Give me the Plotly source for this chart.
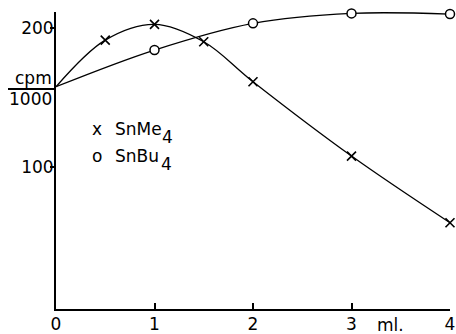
import plotly.graph_objects as go

# data
x_me = [0, 0.5, 1, 1.5, 2, 3, 4]
y_me = [157.8, 191.5, 202.9, 190.3, 161.4, 107.7, 59.5]
x_bu = [0, 1, 2, 3, 4]
y_bu = [157.8, 184.3, 203.6, 210.8, 210.3]
x_ticks = [0, 1, 2, 3, 4]
x_ticklabels = ["0", "1", "2", "3", "4"]
y_ticks = [100, 200]
y_ticklabels = ["100", "200"]

FONT = "DejaVu Sans"
fig = go.Figure()

# SnMe4 curve (starting point without marker)
fig.add_trace(go.Scatter(x=x_me, y=y_me, mode="lines", line=dict(color="black", width=1.3, shape="spline", smoothing=1.0),
                         showlegend=False, hoverinfo="skip", cliponaxis=False))
fig.add_trace(go.Scatter(x=x_me[1:], y=y_me[1:], mode="markers",
                         marker=dict(symbol="x-thin", size=9, line=dict(color="black", width=1.6)),
                         showlegend=False, cliponaxis=False))
# SnBu4 curve
fig.add_trace(go.Scatter(x=x_bu, y=y_bu, mode="lines", line=dict(color="black", width=1.3, shape="spline", smoothing=1.0),
                         showlegend=False, hoverinfo="skip", cliponaxis=False))
fig.add_trace(go.Scatter(x=x_bu[1:], y=y_bu[1:], mode="markers",
                         marker=dict(symbol="circle", size=9, color="white", line=dict(color="black", width=1.5)),
                         showlegend=False, cliponaxis=False))

W, H = 456, 334
L, R, T, B = 56, 6, 12, 25

def px(xp):
    return (xp - L) / (W - L - R)

def py(yp):
    return 1 - (yp - T) / (H - T - B)

annotations = [
    dict(text="cpm", x=px(33), y=py(89.5), xanchor="center", yanchor="bottom"),
    dict(text="1000", x=px(30), y=py(89), xanchor="center", yanchor="top", yshift=2),
    dict(text="ml.", x=px(390), y=py(325), xanchor="center", yanchor="middle"),
    dict(text="x", x=px(97), y=py(129), xanchor="center", yanchor="middle"),
    dict(text="SnMe", x=px(113), y=py(128.5), xanchor="left", yanchor="middle"),
    dict(text="4", x=px(160), y=py(137), xanchor="left", yanchor="middle"),
    dict(text="o", x=px(97), y=py(155.5), xanchor="center", yanchor="middle"),
    dict(text="SnBu", x=px(113), y=py(155.5), xanchor="left", yanchor="middle"),
    dict(text="4", x=px(159), y=py(164), xanchor="left", yanchor="middle"),
]
for a in annotations:
    a.update(xref="paper", yref="paper", showarrow=False, font=dict(family=FONT, size=17, color="black"))

fig.update_layout(
    width=W, height=H,
    margin=dict(l=L, r=R, t=T, b=B),
    paper_bgcolor="white", plot_bgcolor="white",
    showlegend=False,
    font=dict(family=FONT, size=17, color="black"),
    xaxis=dict(range=[0, 4], tickvals=x_ticks, ticktext=x_ticklabels, ticks="inside", ticklen=6,
               tickwidth=1.5, tickcolor="black", showline=True, linecolor="black", linewidth=1.8,
               showgrid=False, zeroline=False, fixedrange=True, ticklabelstandoff=-1, automargin=False),
    yaxis=dict(range=[-2.8, 211.8], tickvals=y_ticks, ticktext=y_ticklabels, ticks="outside", ticklen=4,
               tickwidth=1.5, tickcolor="black", showline=True, linecolor="black", linewidth=1.8,
               showgrid=False, zeroline=False, fixedrange=True, ticklabelstandoff=-7, automargin=False),
    annotations=annotations,
    shapes=[dict(type="line", xref="paper", yref="paper", x0=px(8), x1=px(54), y0=py(89), y1=py(89),
                 line=dict(color="black", width=1.8))],
)

fig.write_html("out.html")
